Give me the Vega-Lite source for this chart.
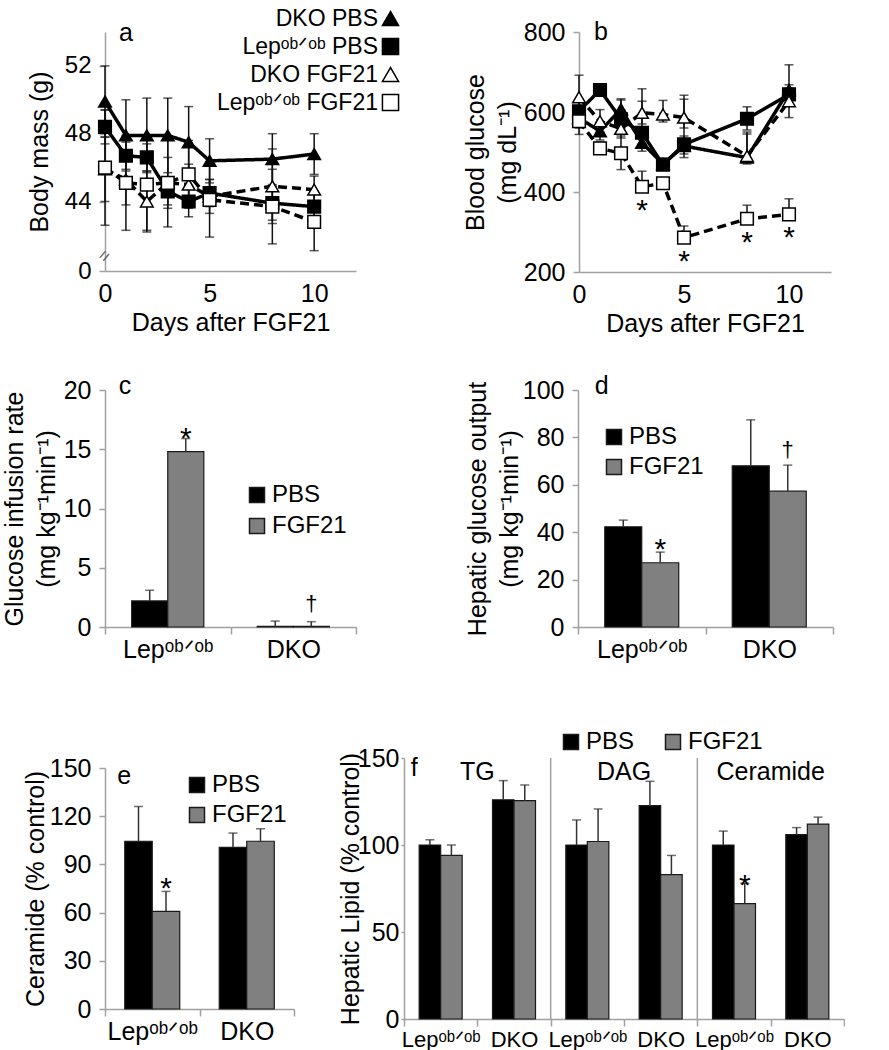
{
  "$schema": "https://vega.github.io/schema/vega-lite/v6.json",
  "background": "white",
  "padding": {"left": 2, "top": 7, "right": 0, "bottom": 0},
  "bounds": "flush",
  "spacing": 726,
  "resolve": {"scale": {"fill": "independent", "shape": "independent", "stroke": "independent", "strokeDash": "independent", "xOffset": "independent"}, "legend": {"fill": "independent", "shape": "independent", "stroke": "independent", "strokeDash": "independent"}},
  "config": {
    "font": "Liberation Sans",
    "view": {"stroke": null},
    "axis": {"domainColor": "#a0a0a0", "domainWidth": 1.5, "tickColor": "#a0a0a0", "tickWidth": 1.5, "labelColor": "black", "titleColor": "black", "labelFontSize": 23, "titleFontSize": 25, "titleFontWeight": "normal", "grid": false, "labelFont": "Liberation Sans", "titleFont": "Liberation Sans"},
    "axisY": {"labelOverlap": false},
    "legend": {"labelFont": "Liberation Sans", "labelColor": "black"},
    "text": {"font": "Liberation Sans", "color": "black"}
  },
  "vconcat": [
    {
      "bounds": "flush",
      "spacing": 358,
      "resolve": {"scale": {"fill": "independent", "shape": "independent", "stroke": "independent", "strokeDash": "independent", "xOffset": "independent"}, "legend": {"fill": "independent", "shape": "independent", "stroke": "independent", "strokeDash": "independent"}},
      "vconcat": [
        {
          "bounds": "flush",
          "spacing": 223,
          "resolve": {"scale": {"fill": "independent", "shape": "independent", "stroke": "independent", "strokeDash": "independent", "xOffset": "independent"}, "legend": {"fill": "independent", "shape": "independent", "stroke": "independent", "strokeDash": "independent"}},
          "hconcat": [
            {
              "width": 251, "height": 239,
              "data": {"values": [
                {"day": 0, "series": "DKO PBS", "trt": "PBS", "v": 49.9, "lo": 47.8, "hi": 52.0},
                {"day": 1, "series": "DKO PBS", "trt": "PBS", "v": 47.9, "lo": 45.8, "hi": 50.0},
                {"day": 2, "series": "DKO PBS", "trt": "PBS", "v": 47.9, "lo": 45.7, "hi": 50.1},
                {"day": 3, "series": "DKO PBS", "trt": "PBS", "v": 47.9, "lo": 45.7, "hi": 50.1},
                {"day": 4, "series": "DKO PBS", "trt": "PBS", "v": 47.5, "lo": 45.5, "hi": 49.6},
                {"day": 5, "series": "DKO PBS", "trt": "PBS", "v": 46.4, "lo": 45.1, "hi": 47.7},
                {"day": 8, "series": "DKO PBS", "trt": "PBS", "v": 46.5, "lo": 45.0, "hi": 48.0},
                {"day": 10, "series": "DKO PBS", "trt": "PBS", "v": 46.8, "lo": 45.6, "hi": 48.0},
                {"day": 0, "series": "Lep PBS", "trt": "PBS", "v": 48.4, "lo": 47.4, "hi": 49.4},
                {"day": 1, "series": "Lep PBS", "trt": "PBS", "v": 46.7, "lo": 45.9, "hi": 47.5},
                {"day": 2, "series": "Lep PBS", "trt": "PBS", "v": 46.6, "lo": 45.8, "hi": 47.4},
                {"day": 3, "series": "Lep PBS", "trt": "PBS", "v": 44.6, "lo": 43.8, "hi": 45.4},
                {"day": 4, "series": "Lep PBS", "trt": "PBS", "v": 44.0, "lo": 43.1, "hi": 44.9},
                {"day": 5, "series": "Lep PBS", "trt": "PBS", "v": 44.5, "lo": 43.7, "hi": 45.3},
                {"day": 8, "series": "Lep PBS", "trt": "PBS", "v": 43.9, "lo": 42.9, "hi": 44.9},
                {"day": 10, "series": "Lep PBS", "trt": "PBS", "v": 43.7, "lo": 42.9, "hi": 44.5},
                {"day": 0, "series": "DKO FGF21", "trt": "FGF21", "v": 45.9, "lo": 44.0, "hi": 47.8},
                {"day": 1, "series": "DKO FGF21", "trt": "FGF21", "v": 45.3, "lo": 43.8, "hi": 46.8},
                {"day": 2, "series": "DKO FGF21", "trt": "FGF21", "v": 44.0, "lo": 42.2, "hi": 45.8},
                {"day": 3, "series": "DKO FGF21", "trt": "FGF21", "v": 45.1, "lo": 43.6, "hi": 46.6},
                {"day": 4, "series": "DKO FGF21", "trt": "FGF21", "v": 45.0, "lo": 43.8, "hi": 46.2},
                {"day": 5, "series": "DKO FGF21", "trt": "FGF21", "v": 44.3, "lo": 43.3, "hi": 45.3},
                {"day": 8, "series": "DKO FGF21", "trt": "FGF21", "v": 44.9, "lo": 42.7, "hi": 47.1},
                {"day": 10, "series": "DKO FGF21", "trt": "FGF21", "v": 44.7, "lo": 43.9, "hi": 45.5},
                {"day": 0, "series": "Lep FGF21", "trt": "FGF21", "v": 46.0, "lo": 42.6, "hi": 49.4},
                {"day": 1, "series": "Lep FGF21", "trt": "FGF21", "v": 45.1, "lo": 42.3, "hi": 47.9},
                {"day": 2, "series": "Lep FGF21", "trt": "FGF21", "v": 45.0, "lo": 42.3, "hi": 47.7},
                {"day": 3, "series": "Lep FGF21", "trt": "FGF21", "v": 45.1, "lo": 42.5, "hi": 47.7},
                {"day": 4, "series": "Lep FGF21", "trt": "FGF21", "v": 45.6, "lo": 43.6, "hi": 47.6},
                {"day": 5, "series": "Lep FGF21", "trt": "FGF21", "v": 44.1, "lo": 41.9, "hi": 46.3},
                {"day": 8, "series": "Lep FGF21", "trt": "FGF21", "v": 43.7, "lo": 41.5, "hi": 45.9},
                {"day": 10, "series": "Lep FGF21", "trt": "FGF21", "v": 42.8, "lo": 41.1, "hi": 44.5}
              ]},
              "layer": [
                {"mark": {"type": "rule", "color": "#111", "strokeWidth": 1.5},
                 "encoding": {
                   "x": {"field": "day", "type": "quantitative", "scale": {"domain": [0, 12], "nice": false}, "axis": {"values": [0, 5, 10], "ticks": false, "title": "Days after FGF21", "labelFontSize": 25, "labelPadding": 10, "titlePadding": 4, "labelFlush": false}},
                   "y": {"field": "lo", "type": "quantitative", "scale": {"domain": [39.9, 54], "nice": false, "zero": false}, "axis": {"values": [39.9, 42, 44, 46, 48, 50, 52, 54], "labelOverlap": false, "labelSeparation": -15, "labelFontSize": 24, "labelExpr": "datum.value < 41 ? '0' : format(datum.value, 'd')", "title": "Body mass (g)", "tickSize": 6, "labelPadding": 8, "titlePadding": 12}},
                   "y2": {"field": "hi"}
                 }},
                {"mark": {"type": "tick", "orient": "horizontal", "size": 9, "thickness": 1.5, "color": "#111"},
                 "encoding": {"x": {"field": "day", "type": "quantitative"}, "y": {"field": "hi", "type": "quantitative"}}},
                {"mark": {"type": "tick", "orient": "horizontal", "size": 9, "thickness": 1.5, "color": "#111"},
                 "encoding": {"x": {"field": "day", "type": "quantitative"}, "y": {"field": "lo", "type": "quantitative"}}},
                {"mark": {"type": "line", "color": "black", "strokeWidth": 3.5},
                 "encoding": {"x": {"field": "day", "type": "quantitative"}, "y": {"field": "v", "type": "quantitative"}, "detail": {"field": "series"}, "strokeDash": {"field": "trt", "type": "nominal", "scale": {"domain": ["PBS", "FGF21"], "range": [[1, 0], [9, 5]]}, "legend": null}}},
                {"mark": {"type": "point", "filled": true, "strokeWidth": 1.5, "size": 160, "opacity": 1},
                 "encoding": {
                   "x": {"field": "day", "type": "quantitative"},
                   "y": {"field": "v", "type": "quantitative"},
                   "shape": {"field": "series", "type": "nominal", "scale": {"domain": ["DKO PBS", "Lep PBS", "DKO FGF21", "Lep FGF21"], "range": ["triangle-up", "square", "triangle-up", "square"]}, "legend": {"orient": "none", "legendX": 274, "legendY": -25, "title": null, "labelFontSize": 23, "labelAlign": "right", "labelOffset": -24, "labelLimit": 300, "symbolSize": 260, "symbolStrokeWidth": 1.5, "rowPadding": 4, "labelExpr": "replace(datum.label, 'Lep', 'Lepᵒᵇᐟᵒᵇ')"}},
                   "fill": {"field": "series", "type": "nominal", "scale": {"domain": ["DKO PBS", "Lep PBS", "DKO FGF21", "Lep FGF21"], "range": ["black", "black", "white", "white"]}, "legend": {"orient": "none", "legendX": 274, "legendY": -25, "title": null, "labelFontSize": 23, "labelAlign": "right", "labelOffset": -24, "labelLimit": 300, "symbolSize": 260, "symbolStrokeWidth": 1.5, "rowPadding": 4, "labelExpr": "replace(datum.label, 'Lep', 'Lepᵒᵇᐟᵒᵇ')"}},
                   "stroke": {"field": "series", "type": "nominal", "scale": {"domain": ["DKO PBS", "Lep PBS", "DKO FGF21", "Lep FGF21"], "range": ["black", "black", "black", "black"]}, "legend": {"orient": "none", "legendX": 274, "legendY": -25, "title": null, "labelFontSize": 23, "labelAlign": "right", "labelOffset": -24, "labelLimit": 300, "symbolSize": 260, "symbolStrokeWidth": 1.5, "rowPadding": 4, "labelExpr": "replace(datum.label, 'Lep', 'Lepᵒᵇᐟᵒᵇ')"}}
                 }},
                {"data": {"values": [{"lab": "a"}]},
                 "mark": {"type": "text", "fontSize": 25, "align": "left", "baseline": "alphabetic", "dy": 9},
                 "encoding": {"x": {"datum": 0.67, "type": "quantitative"}, "y": {"datum": 54, "type": "quantitative"}, "text": {"field": "lab"}}},
                {"data": {"values": [{"lab": "="}]},
                 "mark": {"type": "text", "fontSize": 18, "angle": -50, "color": "#666"},
                 "encoding": {"x": {"datum": 0, "type": "quantitative"}, "y": {"datum": 40.75, "type": "quantitative"}, "text": {"field": "lab"}}}
              ]
            },
            {
              "width": 252, "height": 240,
              "data": {"values": [
                {"day": 0, "series": "DKO PBS", "trt": "PBS", "v": 585, "lo": 560, "hi": 612},
                {"day": 1, "series": "DKO PBS", "trt": "PBS", "v": 552, "lo": 530, "hi": 575},
                {"day": 2, "series": "DKO PBS", "trt": "PBS", "v": 607, "lo": 585, "hi": 630},
                {"day": 3, "series": "DKO PBS", "trt": "PBS", "v": 523, "lo": 502, "hi": 545},
                {"day": 4, "series": "DKO PBS", "trt": "PBS", "v": 470, "lo": 455, "hi": 485},
                {"day": 5, "series": "DKO PBS", "trt": "PBS", "v": 515, "lo": 486, "hi": 540},
                {"day": 8, "series": "DKO PBS", "trt": "PBS", "v": 486, "lo": 470, "hi": 545},
                {"day": 10, "series": "DKO PBS", "trt": "PBS", "v": 655, "lo": 620, "hi": 718},
                {"day": 0, "series": "Lep PBS", "trt": "PBS", "v": 602, "lo": 580, "hi": 625},
                {"day": 1, "series": "Lep PBS", "trt": "PBS", "v": 655, "lo": 640, "hi": 670},
                {"day": 2, "series": "Lep PBS", "trt": "PBS", "v": 582, "lo": 560, "hi": 605},
                {"day": 3, "series": "Lep PBS", "trt": "PBS", "v": 548, "lo": 520, "hi": 627},
                {"day": 4, "series": "Lep PBS", "trt": "PBS", "v": 468, "lo": 455, "hi": 480},
                {"day": 5, "series": "Lep PBS", "trt": "PBS", "v": 519, "lo": 495, "hi": 632},
                {"day": 8, "series": "Lep PBS", "trt": "PBS", "v": 583, "lo": 555, "hi": 613},
                {"day": 10, "series": "Lep PBS", "trt": "PBS", "v": 644, "lo": 620, "hi": 668},
                {"day": 0, "series": "DKO FGF21", "trt": "FGF21", "v": 637, "lo": 610, "hi": 692},
                {"day": 1, "series": "DKO FGF21", "trt": "FGF21", "v": 577, "lo": 550, "hi": 606},
                {"day": 2, "series": "DKO FGF21", "trt": "FGF21", "v": 558, "lo": 535, "hi": 633},
                {"day": 3, "series": "DKO FGF21", "trt": "FGF21", "v": 598, "lo": 570, "hi": 658},
                {"day": 4, "series": "DKO FGF21", "trt": "FGF21", "v": 594, "lo": 575, "hi": 629},
                {"day": 5, "series": "DKO FGF21", "trt": "FGF21", "v": 586, "lo": 560, "hi": 642},
                {"day": 8, "series": "DKO FGF21", "trt": "FGF21", "v": 490, "lo": 475, "hi": 550},
                {"day": 10, "series": "DKO FGF21", "trt": "FGF21", "v": 627, "lo": 586, "hi": 660},
                {"day": 0, "series": "Lep FGF21", "trt": "FGF21", "v": 577, "lo": 544, "hi": 600},
                {"day": 1, "series": "Lep FGF21", "trt": "FGF21", "v": 509, "lo": 495, "hi": 525},
                {"day": 2, "series": "Lep FGF21", "trt": "FGF21", "v": 497, "lo": 456, "hi": 540},
                {"day": 3, "series": "Lep FGF21", "trt": "FGF21", "v": 413, "lo": 413, "hi": 452, "sig": "*"},
                {"day": 4, "series": "Lep FGF21", "trt": "FGF21", "v": 422, "lo": 422, "hi": 435},
                {"day": 5, "series": "Lep FGF21", "trt": "FGF21", "v": 286, "lo": 286, "hi": 315, "sig": "*"},
                {"day": 8, "series": "Lep FGF21", "trt": "FGF21", "v": 333, "lo": 333, "hi": 367, "sig": "*"},
                {"day": 10, "series": "Lep FGF21", "trt": "FGF21", "v": 344, "lo": 344, "hi": 383, "sig": "*"}
              ]},
              "layer": [
                {"mark": {"type": "rule", "color": "#111", "strokeWidth": 1.5},
                 "encoding": {
                   "x": {"field": "day", "type": "quantitative", "scale": {"domain": [0, 12], "nice": false}, "axis": {"values": [0, 5, 10], "ticks": false, "title": "Days after FGF21", "labelFontSize": 25, "labelPadding": 10, "titlePadding": 4, "labelFlush": false}},
                   "y": {"field": "lo", "type": "quantitative", "scale": {"domain": [200, 800], "nice": false, "zero": false}, "axis": {"values": [200, 400, 600, 800], "labelFontSize": 25, "title": ["Blood glucose", "(mg dL⁻¹)"], "titleLineHeight": 32, "tickSize": 6, "labelPadding": 8, "titlePadding": 3}},
                   "y2": {"field": "hi"}
                 }},
                {"mark": {"type": "tick", "orient": "horizontal", "size": 9, "thickness": 1.5, "color": "#111"},
                 "encoding": {"x": {"field": "day", "type": "quantitative"}, "y": {"field": "hi", "type": "quantitative"}}},
                {"mark": {"type": "tick", "orient": "horizontal", "size": 9, "thickness": 1.5, "color": "#111"},
                 "encoding": {"x": {"field": "day", "type": "quantitative"}, "y": {"field": "lo", "type": "quantitative"}}},
                {"mark": {"type": "line", "color": "black", "strokeWidth": 3.5},
                 "encoding": {"x": {"field": "day", "type": "quantitative"}, "y": {"field": "v", "type": "quantitative"}, "detail": {"field": "series"}, "strokeDash": {"field": "trt", "type": "nominal", "scale": {"domain": ["PBS", "FGF21"], "range": [[1, 0], [9, 5]]}, "legend": null}}},
                {"mark": {"type": "point", "filled": true, "stroke": "black", "strokeWidth": 1.5, "size": 160, "opacity": 1},
                 "encoding": {
                   "x": {"field": "day", "type": "quantitative"},
                   "y": {"field": "v", "type": "quantitative"},
                   "shape": {"field": "series", "type": "nominal", "scale": {"domain": ["DKO PBS", "Lep PBS", "DKO FGF21", "Lep FGF21"], "range": ["triangle-up", "square", "triangle-up", "square"]}, "legend": null},
                   "fill": {"field": "series", "type": "nominal", "scale": {"domain": ["DKO PBS", "Lep PBS", "DKO FGF21", "Lep FGF21"], "range": ["black", "black", "white", "white"]}, "legend": null}
                 }},
                {"transform": [{"filter": "datum.sig"}],
                 "mark": {"type": "text", "fontSize": 30, "baseline": "alphabetic", "dy": 33},
                 "encoding": {"x": {"field": "day", "type": "quantitative"}, "y": {"field": "v", "type": "quantitative"}, "text": {"field": "sig"}}},
                {"data": {"values": [{"lab": "b"}]},
                 "mark": {"type": "text", "fontSize": 25, "align": "left", "baseline": "alphabetic", "dy": 8},
                 "encoding": {"x": {"datum": 0.71, "type": "quantitative"}, "y": {"datum": 800, "type": "quantitative"}, "text": {"field": "lab"}}}
              ]
            }
          ]
        },
        {
          "bounds": "flush",
          "spacing": 222,
          "resolve": {"scale": {"fill": "independent", "shape": "independent", "stroke": "independent", "strokeDash": "independent", "xOffset": "independent"}, "legend": {"fill": "independent", "shape": "independent", "stroke": "independent", "strokeDash": "independent"}},
          "hconcat": [
            {
              "width": 251, "height": 237,
              "data": {"values": [
                {"g": "Lep", "t": "PBS", "v": 2.2, "hi": 3.1, "s": ""},
                {"g": "Lep", "t": "FGF21", "v": 14.8, "hi": 15.9, "s": "*"},
                {"g": "DKO", "t": "PBS", "v": 0.05, "hi": 0.5, "s": ""},
                {"g": "DKO", "t": "FGF21", "v": 0.05, "hi": 0.45, "s": "†"}
              ]},
              "layer": [
                {"mark": {"type": "bar", "stroke": "#1a1a1a", "strokeWidth": 1.2},
                 "encoding": {
                   "x": {"field": "g", "type": "nominal", "scale": {"domain": ["Lep", "DKO"], "paddingInner": 0, "paddingOuter": 0}, "axis": {"title": null, "labelAngle": 0, "tickBand": "extent", "tickSize": 7, "labelPadding": 3, "labelFontSize": 25, "labelExpr": "datum.value == 'Lep' ? 'Lepᵒᵇᐟᵒᵇ' : (datum.value == 'DKO' ? 'DKO' : '')"}},
                   "xOffset": {"field": "t", "type": "nominal", "scale": {"domain": ["PBS", "FGF21"], "paddingInner": 0, "paddingOuter": 0.74}},
                   "y": {"field": "v", "type": "quantitative", "scale": {"domain": [0, 20], "nice": false}, "axis": {"values": [0, 5, 10, 15, 20], "labelFontSize": 25, "title": ["Glucose infusion rate", "(mg kg⁻¹min⁻¹)"], "titleLineHeight": 32, "tickSize": 6, "labelPadding": 8, "titlePadding": 4}},
                   "fill": {"field": "t", "type": "nominal", "scale": {"domain": ["PBS", "FGF21"], "range": ["#000000", "#808080"]}, "legend": {"orient": "none", "legendX": 140, "legendY": 93, "title": null, "symbolType": "square", "symbolSize": 225, "symbolStrokeColor": "#1a1a1a", "symbolStrokeWidth": 1.5, "labelFontSize": 24, "labelOffset": 3, "rowPadding": 7}}
                 }},
                {"mark": {"type": "rule", "color": "#333", "strokeWidth": 1.5},
                 "encoding": {"x": {"field": "g", "type": "nominal"}, "xOffset": {"field": "t", "type": "nominal"}, "y": {"field": "v", "type": "quantitative"}, "y2": {"field": "hi"}}},
                {"mark": {"type": "tick", "orient": "horizontal", "size": 9, "thickness": 1.5, "color": "#333"},
                 "encoding": {"x": {"field": "g", "type": "nominal"}, "xOffset": {"field": "t", "type": "nominal"}, "y": {"field": "hi", "type": "quantitative"}}},
                {"transform": [{"filter": "datum.s == '*'"}],
                 "mark": {"type": "text", "fontSize": 30, "baseline": "alphabetic", "dy": 9},
                 "encoding": {"x": {"field": "g", "type": "nominal"}, "xOffset": {"field": "t", "type": "nominal"}, "y": {"field": "hi", "type": "quantitative"}, "text": {"field": "s"}}},
                {"transform": [{"filter": "datum.s == '†'"}],
                 "mark": {"type": "text", "fontSize": 22, "baseline": "alphabetic", "dy": -11},
                 "encoding": {"x": {"field": "g", "type": "nominal"}, "xOffset": {"field": "t", "type": "nominal"}, "y": {"field": "hi", "type": "quantitative"}, "text": {"field": "s"}}},
                {"data": {"values": [{"lab": "c"}]},
                 "mark": {"type": "text", "fontSize": 25, "align": "left", "baseline": "alphabetic", "dx": -49, "dy": 4},
                 "encoding": {"x": {"datum": "Lep", "type": "nominal"}, "y": {"datum": 20, "type": "quantitative"}, "text": {"field": "lab"}}}
              ]
            },
            {
              "width": 255, "height": 237,
              "data": {"values": [
                {"g": "Lep", "t": "PBS", "v": 42.3, "hi": 45.1, "s": ""},
                {"g": "Lep", "t": "FGF21", "v": 27.1, "hi": 31.6, "s": "*"},
                {"g": "DKO", "t": "PBS", "v": 68.0, "hi": 87.4, "s": ""},
                {"g": "DKO", "t": "FGF21", "v": 57.3, "hi": 68.3, "s": "†"}
              ]},
              "layer": [
                {"mark": {"type": "bar", "stroke": "#1a1a1a", "strokeWidth": 1.2},
                 "encoding": {
                   "x": {"field": "g", "type": "nominal", "scale": {"domain": ["Lep", "DKO"], "paddingInner": 0, "paddingOuter": 0}, "axis": {"title": null, "labelAngle": 0, "tickBand": "extent", "tickSize": 7, "labelPadding": 3, "labelFontSize": 25, "labelExpr": "datum.value == 'Lep' ? 'Lepᵒᵇᐟᵒᵇ' : (datum.value == 'DKO' ? 'DKO' : '')"}},
                   "xOffset": {"field": "t", "type": "nominal", "scale": {"domain": ["PBS", "FGF21"], "paddingInner": 0, "paddingOuter": 0.723}},
                   "y": {"field": "v", "type": "quantitative", "scale": {"domain": [0, 100], "nice": false}, "axis": {"values": [0, 20, 40, 60, 80, 100], "labelFontSize": 25, "title": ["Hepatic glucose output", "(mg kg⁻¹min⁻¹)"], "titleLineHeight": 32, "tickSize": 6, "labelPadding": 8, "titlePadding": 0}},
                   "fill": {"field": "t", "type": "nominal", "scale": {"domain": ["PBS", "FGF21"], "range": ["#000000", "#808080"]}, "legend": {"orient": "none", "legendX": 24, "legendY": 35, "title": null, "symbolType": "square", "symbolSize": 225, "symbolStrokeColor": "#1a1a1a", "symbolStrokeWidth": 1.5, "labelFontSize": 24, "labelOffset": 3, "rowPadding": 6}}
                 }},
                {"mark": {"type": "rule", "color": "#333", "strokeWidth": 1.5},
                 "encoding": {"x": {"field": "g", "type": "nominal"}, "xOffset": {"field": "t", "type": "nominal"}, "y": {"field": "v", "type": "quantitative"}, "y2": {"field": "hi"}}},
                {"mark": {"type": "tick", "orient": "horizontal", "size": 9, "thickness": 1.5, "color": "#333"},
                 "encoding": {"x": {"field": "g", "type": "nominal"}, "xOffset": {"field": "t", "type": "nominal"}, "y": {"field": "hi", "type": "quantitative"}}},
                {"transform": [{"filter": "datum.s == '*'"}],
                 "mark": {"type": "text", "fontSize": 30, "baseline": "alphabetic", "dy": 7},
                 "encoding": {"x": {"field": "g", "type": "nominal"}, "xOffset": {"field": "t", "type": "nominal"}, "y": {"field": "hi", "type": "quantitative"}, "text": {"field": "s"}}},
                {"transform": [{"filter": "datum.s == '†'"}],
                 "mark": {"type": "text", "fontSize": 22, "baseline": "alphabetic", "dy": -8},
                 "encoding": {"x": {"field": "g", "type": "nominal"}, "xOffset": {"field": "t", "type": "nominal"}, "y": {"field": "hi", "type": "quantitative"}, "text": {"field": "s"}}},
                {"data": {"values": [{"lab": "d"}]},
                 "mark": {"type": "text", "fontSize": 25, "align": "left", "baseline": "alphabetic", "dx": -47, "dy": 4},
                 "encoding": {"x": {"datum": "Lep", "type": "nominal"}, "y": {"datum": 100, "type": "quantitative"}, "text": {"field": "lab"}}}
              ]
            }
          ]
        }
      ]
    },
    {
      "bounds": "flush",
      "spacing": 110,
      "center": true,
      "resolve": {"scale": {"fill": "independent", "shape": "independent", "stroke": "independent", "strokeDash": "independent", "xOffset": "independent"}, "legend": {"fill": "independent", "shape": "independent", "stroke": "independent", "strokeDash": "independent"}},
      "hconcat": [
        {
          "width": 189, "height": 241,
          "data": {"values": [
            {"g": "Lep", "t": "PBS", "v": 104.4, "hi": 126.1, "s": ""},
            {"g": "Lep", "t": "FGF21", "v": 60.8, "hi": 73.2, "s": "*"},
            {"g": "DKO", "t": "PBS", "v": 100.6, "hi": 109.5, "s": ""},
            {"g": "DKO", "t": "FGF21", "v": 104.4, "hi": 112.2, "s": ""}
          ]},
          "layer": [
            {"mark": {"type": "bar", "stroke": "#1a1a1a", "strokeWidth": 1.2},
             "encoding": {
               "x": {"field": "g", "type": "nominal", "scale": {"domain": ["Lep", "DKO"], "paddingInner": 0, "paddingOuter": 0}, "axis": {"title": null, "labelAngle": 0, "tickBand": "extent", "tickSize": 7, "labelPadding": 3, "labelFontSize": 25, "labelExpr": "datum.value == 'Lep' ? 'Lepᵒᵇᐟᵒᵇ' : (datum.value == 'DKO' ? 'DKO' : '')"}},
               "xOffset": {"field": "t", "type": "nominal", "scale": {"domain": ["PBS", "FGF21"], "paddingInner": 0, "paddingOuter": 0.718}},
               "y": {"field": "v", "type": "quantitative", "scale": {"domain": [0, 150], "nice": false}, "axis": {"values": [0, 30, 60, 90, 120, 150], "labelFontSize": 25, "title": "Ceramide (% control)", "tickSize": 6, "labelPadding": 8, "titlePadding": 1}},
               "fill": {"field": "t", "type": "nominal", "scale": {"domain": ["PBS", "FGF21"], "range": ["#000000", "#808080"]}, "legend": {"orient": "none", "legendX": 80, "legendY": 5, "title": null, "symbolType": "square", "symbolSize": 225, "symbolStrokeColor": "#1a1a1a", "symbolStrokeWidth": 1.5, "labelFontSize": 24, "labelOffset": 3, "rowPadding": 6}}
             }},
            {"mark": {"type": "rule", "color": "#333", "strokeWidth": 1.5},
             "encoding": {"x": {"field": "g", "type": "nominal"}, "xOffset": {"field": "t", "type": "nominal"}, "y": {"field": "v", "type": "quantitative"}, "y2": {"field": "hi"}}},
            {"mark": {"type": "tick", "orient": "horizontal", "size": 9, "thickness": 1.5, "color": "#333"},
             "encoding": {"x": {"field": "g", "type": "nominal"}, "xOffset": {"field": "t", "type": "nominal"}, "y": {"field": "hi", "type": "quantitative"}}},
            {"transform": [{"filter": "datum.s == '*'"}],
             "mark": {"type": "text", "fontSize": 30, "baseline": "alphabetic", "dy": 7},
             "encoding": {"x": {"field": "g", "type": "nominal"}, "xOffset": {"field": "t", "type": "nominal"}, "y": {"field": "hi", "type": "quantitative"}, "text": {"field": "s"}}},
            {"data": {"values": [{"lab": "e"}]},
             "mark": {"type": "text", "fontSize": 25, "align": "left", "baseline": "alphabetic", "dx": -35, "dy": 16},
             "encoding": {"x": {"datum": "Lep", "type": "nominal"}, "y": {"datum": 150, "type": "quantitative"}, "text": {"field": "lab"}}}
          ]
        },
        {
          "width": 440, "height": 261,
          "data": {"values": [
            {"cat": "TG|Lep", "t": "PBS", "v": 100, "hi": 103, "s": ""},
            {"cat": "TG|Lep", "t": "FGF21", "v": 94, "hi": 100, "s": ""},
            {"cat": "TG|DKO", "t": "PBS", "v": 126, "hi": 137, "s": ""},
            {"cat": "TG|DKO", "t": "FGF21", "v": 125.5, "hi": 134.5, "s": ""},
            {"cat": "DAG|Lep", "t": "PBS", "v": 100, "hi": 114.4, "s": ""},
            {"cat": "DAG|Lep", "t": "FGF21", "v": 102, "hi": 120.7, "s": ""},
            {"cat": "DAG|DKO", "t": "PBS", "v": 122.6, "hi": 136.6, "s": ""},
            {"cat": "DAG|DKO", "t": "FGF21", "v": 83, "hi": 94, "s": ""},
            {"cat": "Cer|Lep", "t": "PBS", "v": 100, "hi": 108, "s": ""},
            {"cat": "Cer|Lep", "t": "FGF21", "v": 66.3, "hi": 78, "s": "*"},
            {"cat": "Cer|DKO", "t": "PBS", "v": 106, "hi": 110, "s": ""},
            {"cat": "Cer|DKO", "t": "FGF21", "v": 112, "hi": 116, "s": ""}
          ]},
          "layer": [
            {"mark": {"type": "bar", "stroke": "#1a1a1a", "strokeWidth": 1.2},
             "encoding": {
               "x": {"field": "cat", "type": "nominal", "scale": {"domain": ["TG|Lep", "TG|DKO", "DAG|Lep", "DAG|DKO", "Cer|Lep", "Cer|DKO"], "paddingInner": 0, "paddingOuter": 0}, "axis": {"title": null, "labelAngle": 0, "tickBand": "extent", "tickSize": 7, "labelPadding": 3, "labelFontSize": 22, "labelExpr": "(datum.value == 'TG|Lep' || datum.value == 'DAG|Lep' || datum.value == 'Cer|Lep') ? 'Lepᵒᵇᐟᵒᵇ' : ((datum.value == 'TG|DKO' || datum.value == 'DAG|DKO' || datum.value == 'Cer|DKO') ? 'DKO' : '')"}},
               "xOffset": {"field": "t", "type": "nominal", "scale": {"domain": ["PBS", "FGF21"], "paddingInner": 0, "paddingOuter": 0.705}},
               "y": {"field": "v", "type": "quantitative", "scale": {"domain": [0, 150], "nice": false}, "axis": {"values": [0, 50, 100, 150], "labelFontSize": 25, "title": "Hepatic Lipid (% control)", "tickSize": 3, "labelPadding": 2, "titlePadding": -6}},
               "fill": {"field": "t", "type": "nominal", "scale": {"domain": ["PBS", "FGF21"], "range": ["#000000", "#808080"]}, "legend": {"orient": "none", "direction": "horizontal", "legendX": 155, "legendY": -28, "title": null, "symbolType": "square", "symbolSize": 225, "symbolStrokeColor": "#1a1a1a", "symbolStrokeWidth": 1.5, "labelFontSize": 24, "labelOffset": 3, "columnPadding": 26}}
             }},
            {"mark": {"type": "rule", "color": "#333", "strokeWidth": 1.5},
             "encoding": {"x": {"field": "cat", "type": "nominal"}, "xOffset": {"field": "t", "type": "nominal"}, "y": {"field": "v", "type": "quantitative"}, "y2": {"field": "hi"}}},
            {"mark": {"type": "tick", "orient": "horizontal", "size": 9, "thickness": 1.5, "color": "#333"},
             "encoding": {"x": {"field": "cat", "type": "nominal"}, "xOffset": {"field": "t", "type": "nominal"}, "y": {"field": "hi", "type": "quantitative"}}},
            {"transform": [{"filter": "datum.s == '*'"}],
             "mark": {"type": "text", "fontSize": 30, "baseline": "alphabetic", "dy": 12},
             "encoding": {"x": {"field": "cat", "type": "nominal"}, "xOffset": {"field": "t", "type": "nominal"}, "y": {"field": "hi", "type": "quantitative"}, "text": {"field": "s"}}},
            {"data": {"values": [{"cat": "DAG|Lep"}, {"cat": "Cer|Lep"}]},
             "mark": {"type": "rule", "color": "#a0a0a0", "strokeWidth": 1.5},
             "encoding": {"x": {"field": "cat", "type": "nominal", "bandPosition": 0}, "y": {"datum": 0, "type": "quantitative"}, "y2": {"datum": 150}}},
            {"data": {"values": [{"cat": "TG|DKO", "lab": "TG"}, {"cat": "DAG|DKO", "lab": "DAG"}, {"cat": "Cer|DKO", "lab": "Ceramide"}]},
             "mark": {"type": "text", "fontSize": 25, "baseline": "alphabetic", "dy": 22},
             "encoding": {"x": {"field": "cat", "type": "nominal", "bandPosition": 0}, "y": {"datum": 150, "type": "quantitative"}, "text": {"field": "lab"}}},
            {"data": {"values": [{"lab": "f"}]},
             "mark": {"type": "text", "fontSize": 25, "align": "left", "baseline": "alphabetic", "dx": -30, "dy": 18},
             "encoding": {"x": {"datum": "TG|Lep", "type": "nominal"}, "y": {"datum": 150, "type": "quantitative"}, "text": {"field": "lab"}}}
          ]
        }
      ]
    }
  ]
}
